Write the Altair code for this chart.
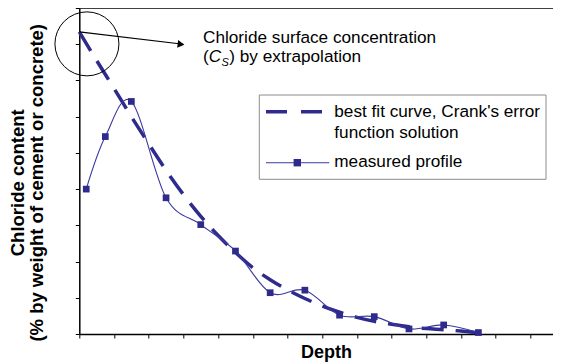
import altair as alt
import pandas as pd

# ---- data ----
depth_measured = [0.2, 0.75, 1.5, 2.5, 3.5, 4.5, 5.5, 6.5, 7.5, 8.5, 9.5, 10.5, 11.5]
chloride_measured = [4.0, 5.45, 6.42, 3.76, 3.02, 2.29, 1.14, 1.21, 0.52, 0.48, 0.14, 0.25, 0.04]

depth_fit = [0, 0.5, 1.0, 1.5, 2.0, 2.5, 3.0, 3.5, 4.0, 4.5, 5.0, 5.5, 6.0, 6.5,
             7.0, 7.5, 8.0, 8.5, 9.0, 9.5, 10.0, 10.5, 11.0, 11.55]
chloride_fit = [8.34, 7.55, 6.78, 6.0, 5.25, 4.52, 3.85, 3.25, 2.72, 2.25, 1.83, 1.50,
                1.22, 0.98, 0.77, 0.60, 0.46, 0.35, 0.27, 0.20, 0.15, 0.12, 0.08, 0.03]

x_ticks = list(range(0, 14))
y_ticks = list(range(0, 10))

x_title = "Depth"
y_title = ["Chloride content", "(% by weight of cement or concrete)"]
legend_fit = ["best fit curve, Crank's error", "function solution"]
legend_measured = "measured profile"
annot_line1 = "Chloride surface concentration"

COLOR = "#2e2b8c"
LINE_COLOR = "#3b38a0"
FONT = "Liberation Sans"
X_DOMAIN = [0, 13.65]
Y_DOMAIN = [0, 9]

xs = alt.Scale(domain=X_DOMAIN, nice=False, zero=False)
ys = alt.Scale(domain=Y_DOMAIN, nice=False)

x_axis = alt.Axis(values=x_ticks, labels=False, grid=False, tickSize=4, tickColor="black",
                  tickWidth=1, domainColor="black", domainWidth=1.5, title=x_title,
                  titleFont=FONT, titleFontSize=18, titleFontWeight="bold", titleColor="black",
                  titleX=246.7, titleY=23.3, titleBaseline="alphabetic", titleAlign="center")
y_axis = alt.Axis(values=y_ticks, labels=False, grid=False, tickSize=4, tickColor="black",
                  tickWidth=1, domainColor="black", domainWidth=1.5, title=y_title,
                  titleFont=FONT, titleFontSize=18.5, titleFontWeight="bold", titleColor="black",
                  titleX=-52, titleY=174.3, titleAngle=270, titleBaseline="bottom",
                  titleAlign="center", titleLineHeight=19.5)

meas = pd.DataFrame({"depth": depth_measured, "cl": chloride_measured})
fit = pd.DataFrame({"depth": depth_fit, "cl": chloride_fit})
one = pd.DataFrame({"a": [0]})

X = alt.X("depth:Q", scale=xs, axis=x_axis)
Y = alt.Y("cl:Q", scale=ys, axis=y_axis)

fit_line = alt.Chart(fit).mark_line(
    color=COLOR, strokeWidth=3.5, strokeDash=[22, 12], interpolate="monotone"
).encode(x=X, y=Y)

meas_line = alt.Chart(meas).mark_line(
    color=LINE_COLOR, strokeWidth=1.1, interpolate="cardinal", tension=0
).encode(x=X, y=Y)

meas_pts = alt.Chart(meas).mark_square(size=45, color=COLOR, opacity=1).encode(x=X, y=Y)

top_border = alt.Chart(pd.DataFrame({"depth": [X_DOMAIN[0]], "d2": [X_DOMAIN[1]], "cl": [Y_DOMAIN[1]]})
                       ).mark_rule(color="black", strokeWidth=1.5).encode(x=X, x2="d2:Q", y=Y)

# annotation: circle, arrow, text
circ = alt.Chart(pd.DataFrame({"depth": [0.22], "cl": [8.01]})).mark_point(
    shape="circle", size=4096, filled=False, color="black", strokeWidth=1, opacity=1
).encode(x=X, y=Y)

arrow = alt.Chart(pd.DataFrame({"depth": [0, 3.0], "cl": [8.34, 8.0]})).mark_line(
    color="black", strokeWidth=1.2).encode(x=X, y=Y)
arrow_head = alt.Chart(pd.DataFrame({"depth": [2.93], "cl": [8.0]})).mark_point(
    shape="triangle-right", angle=7, size=60, filled=True, color="black", opacity=1
).encode(x=X, y=Y)

def txt(text, x, y, dx=0, dy=0, size=17.2, style="normal"):
    return alt.Chart(pd.DataFrame({"depth": [x], "cl": [y]})).mark_text(
        text=text, align="left", baseline="alphabetic", font=FONT, fontSize=size,
        fontStyle=style, color="black", dx=dx, dy=dy
    ).encode(x=X, y=Y)

ax, ay1, ay2 = 3.565, 8.03, 7.51
annot = [
    txt(annot_line1, ax, ay1),
    txt("(", ax, ay2),
    txt("C", ax, ay2, dx=5.8, style="italic"),
    txt("S", ax, ay2, dx=18.5, dy=4, size=11, style="italic"),
    txt(") by extrapolation", ax, ay2, dx=26.3),
]

# legend (drawn in pixel space of the plot area)
def ptxt(text, x, y):
    return alt.Chart(one).mark_text(
        text=text, align="left", baseline="alphabetic", font=FONT, fontSize=17.2, color="black"
    ).encode(x=alt.value(x), y=alt.value(y))

leg_box = alt.Chart(one).mark_rect(fill="white", stroke="#8c8c8c", strokeWidth=1).encode(
    x=alt.value(180), x2=alt.value(466.7), y=alt.value(87), y2=alt.value(171.3))
leg_dash = alt.Chart(one).mark_rule(color=COLOR, strokeWidth=3.5, strokeDash=[21, 14]).encode(
    x=alt.value(186.7), x2=alt.value(243.4), y=alt.value(103.7))
leg_line = alt.Chart(one).mark_rule(color=LINE_COLOR, strokeWidth=1.1).encode(
    x=alt.value(186.7), x2=alt.value(250), y=alt.value(154.7))
leg_sq = alt.Chart(one).mark_square(size=55, color=COLOR, opacity=1).encode(
    x=alt.value(218), y=alt.value(154.7))
legend = [leg_box, leg_dash, leg_line, leg_sq,
          ptxt(legend_fit[0], 255, 109.3), ptxt(legend_fit[1], 255, 130.3),
          ptxt(legend_measured, 255, 159.3)]

chart = alt.layer(
    fit_line, meas_line, meas_pts, top_border, circ, arrow, arrow_head, *annot, *legend
).properties(
    width=473.7, height=326,
    autosize=alt.AutoSizeParams(type="none"),
    padding={"left": 71.3, "top": 0, "right": 0, "bottom": 28},
).configure(background="white").configure_view(stroke=None)

chart.save("out.html", embed_options={"renderer": "svg", "actions": False})
